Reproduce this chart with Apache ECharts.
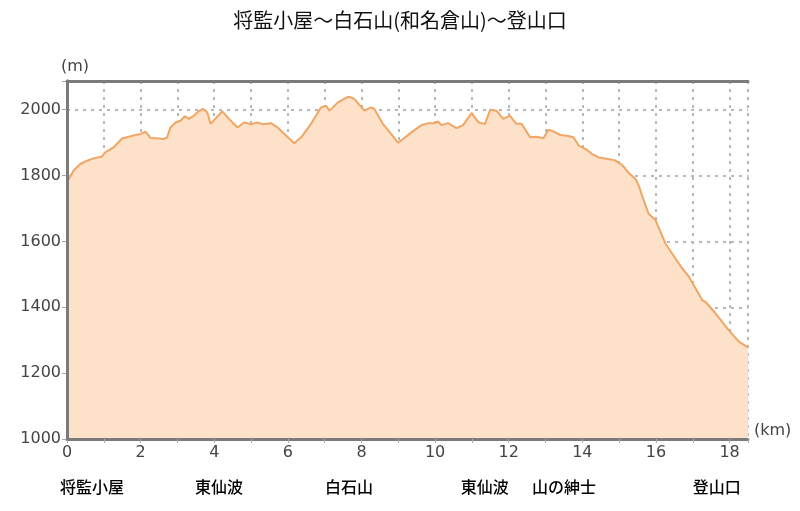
<!DOCTYPE html>
<html>
<head>
<meta charset="utf-8">
<script src="https://cdn.jsdelivr.net/npm/echarts@6/dist/echarts.min.js"></script>
<style>
html,body{margin:0;padding:0;background:#fff;}
#c{width:800px;height:511px;}
</style>
</head>
<body>
<div id="c"></div>
<script>
const titleText = '将監小屋～白石山(和名倉山)～登山口';
const distanceKm = [0, 0.18, 0.36, 0.54, 0.72, 0.95, 1.04, 1.27, 1.5, 1.63, 1.86, 2.0, 2.13, 2.27, 2.45, 2.63, 2.72, 2.81, 2.95, 3.09, 3.2, 3.31, 3.45, 3.56, 3.7, 3.81, 3.9, 4.22, 4.4, 4.63, 4.81, 5.0, 5.18, 5.31, 5.54, 5.72, 6.0, 6.17, 6.36, 6.63, 6.9, 7.04, 7.13, 7.36, 7.63, 7.72, 7.81, 8.08, 8.26, 8.35, 8.58, 8.81, 8.99, 9.13, 9.35, 9.63, 9.81, 9.99, 10.08, 10.17, 10.35, 10.58, 10.76, 10.99, 11.17, 11.35, 11.5, 11.67, 11.85, 12.03, 12.21, 12.35, 12.58, 12.76, 12.94, 13.08, 13.17, 13.4, 13.58, 13.76, 13.9, 14.08, 14.26, 14.44, 14.62, 14.89, 15.08, 15.26, 15.44, 15.53, 15.67, 15.8, 15.99, 16.26, 16.53, 16.7, 16.9, 17.26, 17.35, 17.62, 17.98, 18.26, 18.5];
const elevationM = [1780, 1815, 1835, 1845, 1852, 1858, 1870, 1886, 1913, 1916, 1923, 1926, 1933, 1914, 1913, 1911, 1916, 1946, 1961, 1967, 1980, 1972, 1982, 1994, 2002, 1992, 1957, 1995, 1972, 1946, 1961, 1956, 1961, 1956, 1959, 1946, 1916, 1898, 1916, 1957, 2007, 2012, 1997, 2022, 2039, 2037, 2032, 1997, 2007, 2002, 1957, 1926, 1900, 1911, 1931, 1953, 1959, 1959, 1964, 1953, 1959, 1944, 1953, 1990, 1962, 1956, 2000, 1997, 1972, 1982, 1957, 1957, 1916, 1918, 1913, 1939, 1936, 1923, 1921, 1916, 1891, 1881, 1866, 1855, 1852, 1846, 1832, 1808, 1790, 1770, 1724, 1684, 1664, 1593, 1548, 1520, 1492, 1421, 1416, 1381, 1330, 1295, 1278];
const placeNames = ['将監小屋', '東仙波', '白石山', '東仙波', '山の紳士', '登山口'];
const placeKm = [0.68, 4.13, 7.66, 11.35, 13.5, 17.65];

const chart = echarts.init(document.getElementById('c'), null, {renderer: 'canvas'});
const axisCol = '#7b7b7b';
const gridLine = {show: true, lineStyle: {color: '#b8b8b8', type: [3, 5], width: 2}};
const frameAxis = {show: true, lineStyle: {color: axisCol, width: 3}};
chart.setOption({
  animation: false,
  backgroundColor: '#ffffff',
  title: {
    text: titleText, left: 'center', top: 5,
    textStyle: {fontFamily: 'Noto Sans CJK JP', fontSize: 20, fontWeight: 'normal', color: '#111'}
  },
  grid: {left: 67, right: 52, top: 81, bottom: 72, show: false},
  xAxis: [{
    type: 'value', min: 0, max: 18.5, interval: 1, z: 3,
    name: '(km)', nameLocation: 'end', nameGap: 6,
    nameTextStyle: {fontFamily: 'DejaVu Sans', fontSize: 16, color: '#444', verticalAlign: 'bottom'},
    axisLine: frameAxis,
    axisTick: {show: true, length: 4, lineStyle: {color: '#aaa', width: 1}},
    axisLabel: {fontFamily: 'DejaVu Sans', fontSize: 16, color: '#444', margin: 6,
      formatter: v => (Math.round(v) % 2 === 0 && v <= 18 ? String(Math.round(v)) : '')},
    splitLine: gridLine
  }, {
    type: 'value', min: 0, max: 18.5, position: 'bottom', offset: 38,
    axisLine: {show: false}, axisTick: {show: false}, splitLine: {show: false},
    axisLabel: {
      customValues: placeKm, margin: 2, fontFamily: 'Noto Sans CJK JP', fontSize: 16, color: '#000', fontWeight: 500,
      formatter: v => { const i = placeKm.findIndex(p => Math.abs(p - v) < 1e-6); return i >= 0 ? placeNames[i] : ''; }
    }
  }, {
    type: 'value', min: 0, max: 18.5, position: 'top', z: 4,
    axisLine: frameAxis, axisTick: {show: false}, axisLabel: {show: false}, splitLine: {show: false}
  }],
  yAxis: [{
    type: 'value', min: 1000, max: 2087, interval: 200, z: 3,
    name: '(m)', nameLocation: 'end', nameGap: 6,
    nameTextStyle: {fontFamily: 'DejaVu Sans', fontSize: 16, color: '#444', align: 'left', padding: [0, 0, 0, -6]},
    axisLine: frameAxis,
    axisTick: {show: true, length: 5, lineStyle: {color: '#aaa', width: 1}},
    axisLabel: {fontFamily: 'DejaVu Sans', fontSize: 16, color: '#444', margin: 6,
      formatter: v => (v % 200 === 0 ? String(v) : '')},
    splitLine: gridLine
  }, {
    type: 'value', min: 1000, max: 2087, position: 'right', z: 4,
    axisLine: frameAxis, axisTick: {show: false}, axisLabel: {show: false}, splitLine: {show: false}
  }],
  series: [{
    type: 'line', xAxisIndex: 0, yAxisIndex: 0,
    data: distanceKm.map((d, i) => [d, elevationM[i]]),
    showSymbol: false, smooth: false,
    lineStyle: {color: '#f0a664', width: 2},
    areaStyle: {color: '#fde1c8', opacity: 1}
  }]
});
</script>
</body>
</html>
